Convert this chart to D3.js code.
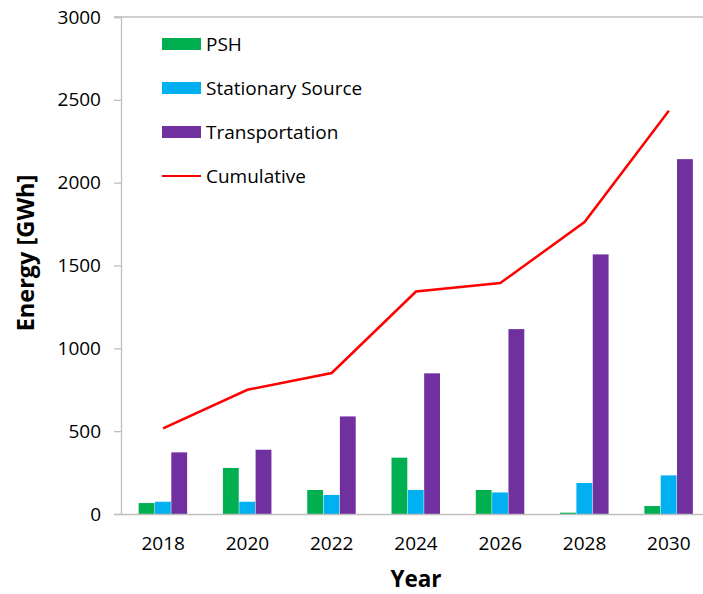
<!DOCTYPE html>
<html>
<head>
<meta charset="utf-8">
<script src="https://cdn.jsdelivr.net/npm/d3@7"></script>
<style>
  html, body { margin: 0; padding: 0; background: #fff; }
  svg { display: block; }
  text { font-family: "Open Sans", sans-serif; fill: #000; }
</style>
</head>
<body>
<svg id="chart" width="703" height="594"></svg>
<script>
const years = ["2018", "2020", "2022", "2024", "2026", "2028", "2030"];
const psh = [66, 278, 145, 340, 145, 8, 48];
const stationary = [74, 74, 115, 145, 130, 187, 233];
const transportation = [372, 388, 589, 849, 1116, 1567, 2142];
const cumulative = [517, 750, 851, 1343, 1394, 1762, 2434];
const yTicks = [0, 500, 1000, 1500, 2000, 2500, 3000];
const seriesNames = ["PSH", "Stationary Source", "Transportation"];
const seriesColors = ["#00B050", "#00B0F0", "#7030A0"];
const lineName = "Cumulative";
const lineColor = "#FF0000";

const svg = d3.select("#chart");
const mLeft = 121, mRight = 711, mTop = 17, mBottom = 514;

const x = d3.scaleBand().domain(years).range([mLeft, mRight]).padding(0);
const bw = x.bandwidth();
const xi = d3.scaleBand().domain(seriesNames).range([bw / 2 - 24.5, bw / 2 + 24.5]).padding(0);
const y = d3.scaleLinear().domain([0, 3000]).range([mBottom, mTop]);

const axisColor = "#BFBFBF";

// top border
svg.append("line").attr("x1", mLeft - 7).attr("x2", 703).attr("y1", y(3000)).attr("y2", y(3000))
  .attr("stroke", axisColor).attr("stroke-width", 1.3);

// y axis
const yAxis = svg.append("g").attr("transform", `translate(${mLeft},0)`)
  .call(d3.axisLeft(y).tickValues(yTicks).tickSize(7).tickPadding(13).tickFormat(d3.format("d")));
yAxis.select(".domain").attr("stroke", axisColor).attr("stroke-width", 1.3);
yAxis.selectAll(".tick line").attr("stroke", axisColor).attr("stroke-width", 1.3);
yAxis.selectAll(".tick text").style("font-size", "19px").style("font-family", "'Open Sans', sans-serif").attr("fill", "#000");

// bars
const data = [psh, stationary, transportation];
seriesNames.forEach((name, si) => {
  svg.append("g").selectAll("rect").data(years).join("rect")
    .attr("x", (d) => x(d) + xi(name))
    .attr("width", xi.bandwidth() - 0.5)
    .attr("y", (d, i) => y(data[si][i]))
    .attr("height", (d, i) => y(0) - y(data[si][i]))
    .attr("fill", seriesColors[si]);
});

// x axis
const xAxis = svg.append("g").attr("transform", `translate(0,${mBottom})`)
  .call(d3.axisBottom(x).tickSize(0).tickPadding(23));
xAxis.select(".domain").attr("stroke", axisColor).attr("stroke-width", 1.5);
xAxis.selectAll(".tick text").style("font-size", "19px").style("font-family", "'Open Sans', sans-serif").attr("fill", "#000");

// cumulative line
const line = d3.line().x((d, i) => x(years[i]) + bw / 2).y((d) => y(d));
svg.append("path").datum(cumulative).attr("d", line)
  .attr("fill", "none").attr("stroke", lineColor).attr("stroke-width", 2.5).attr("stroke-linejoin", "miter");

// axis titles
svg.append("text").attr("transform", `translate(34,253) rotate(-90)`)
  .attr("text-anchor", "middle").style("font-size", "23.5px").style("font-weight", "bold").text("Energy [GWh]");
svg.append("text").attr("x", 416).attr("y", 587).attr("text-anchor", "middle")
  .style("font-size", "22.5px").style("font-weight", "bold").text("Year");

// legend
const lg = svg.append("g");
seriesNames.forEach((name, i) => {
  const cy = 44 + i * 44;
  lg.append("rect").attr("x", 162).attr("y", cy - 6).attr("width", 39).attr("height", 12).attr("fill", seriesColors[i]);
  lg.append("text").attr("x", 206).attr("y", cy).attr("dy", "0.35em").style("font-size", "19px").text(name);
});
lg.append("line").attr("x1", 162).attr("x2", 201).attr("y1", 176).attr("y2", 176).attr("stroke", lineColor).attr("stroke-width", 2);
lg.append("text").attr("x", 206).attr("y", 176).attr("dy", "0.35em").style("font-size", "19px").text(lineName);
</script>
</body>
</html>
